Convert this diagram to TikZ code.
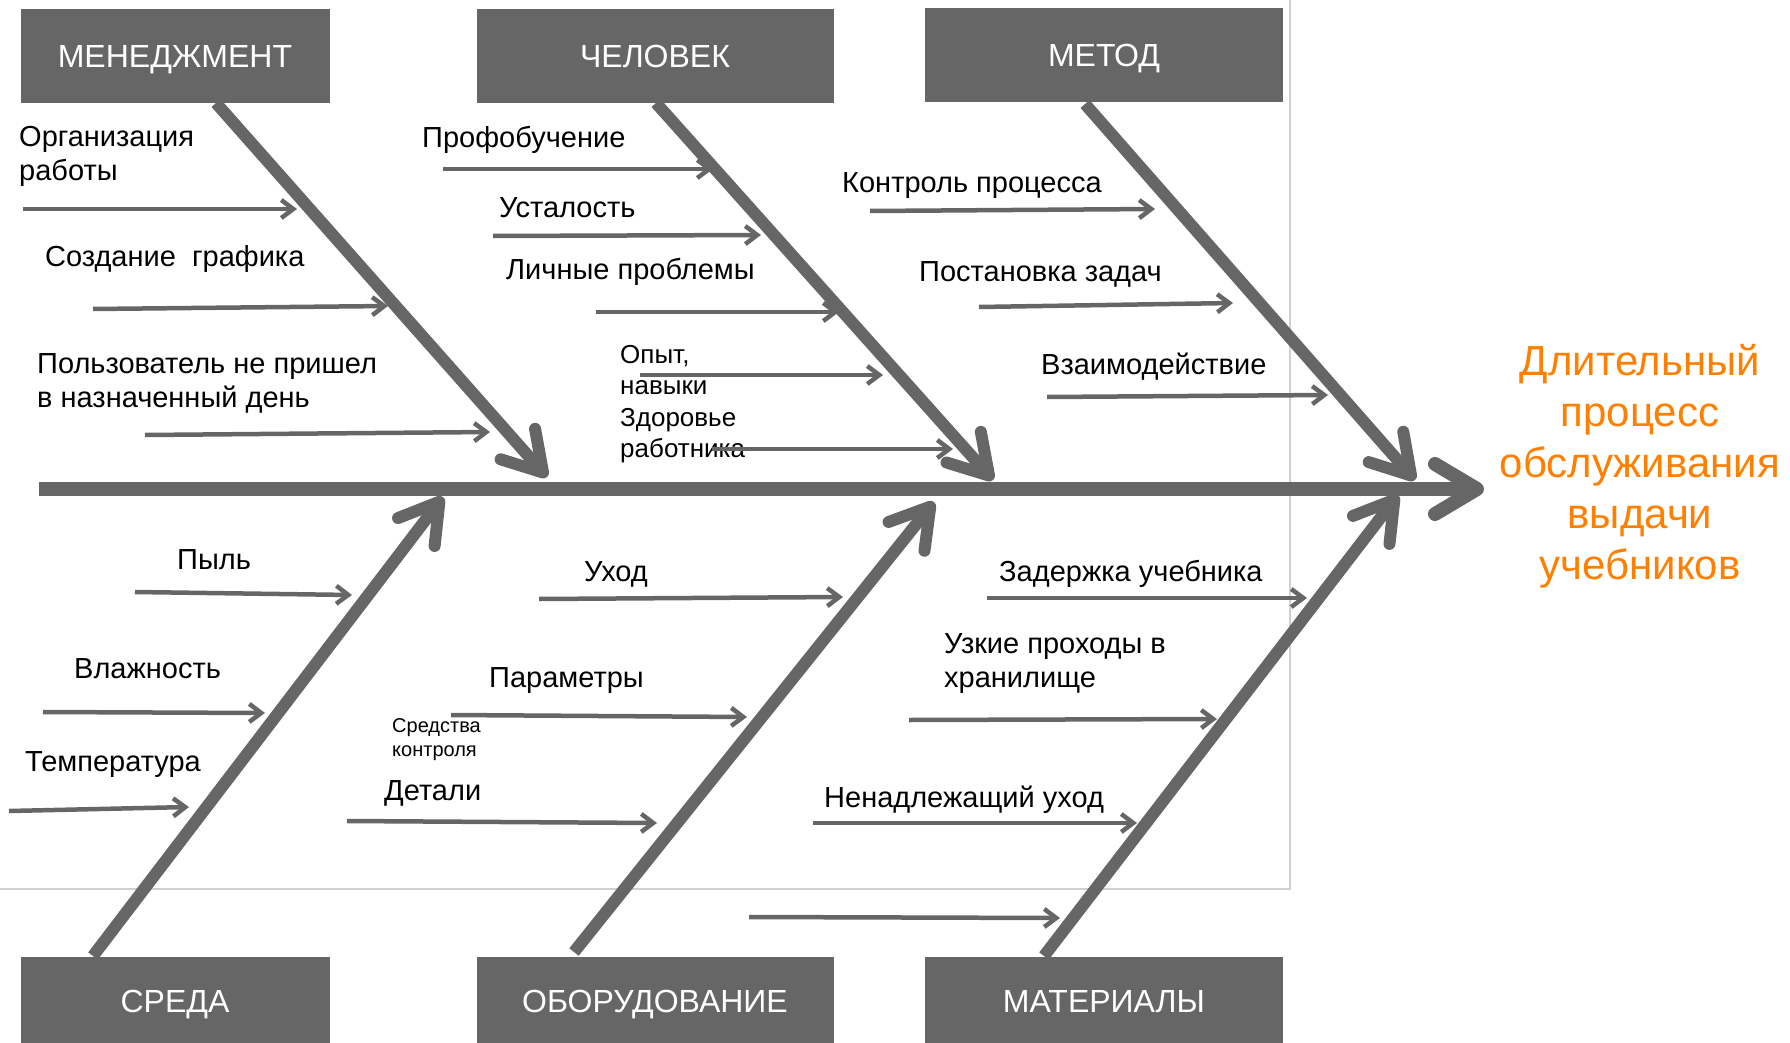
\documentclass[tikz,border=0pt]{standalone}
\usepackage{fontspec}
\setmainfont{Liberation Sans}
\usetikzlibrary{arrows.meta}
\definecolor{boxgray}{RGB}{102,102,102}
\definecolor{effectorange}{RGB}{255,128,0}
\definecolor{framegray}{RGB}{208,208,208}
\tikzset{
  catbox/.style={fill=boxgray, text=white, inner sep=0pt, text height=23pt, text depth=0pt, font=\fontsize{32}{38}\selectfont},
  bone/.style={draw=boxgray, line width=12pt, -{Straight Barb[length=38pt,width=46pt,round]}},
  spine/.style={draw=boxgray, line width=14pt, -{Straight Barb[length=42pt,width=50pt,round]}},
  cause/.style={draw=boxgray, line width=4.5pt, -{Straight Barb[length=12pt,width=18pt]}},
  causetext/.style={anchor=base west, inner sep=0pt, align=left, font=\fontsize{29}{34}\selectfont},
}
\begin{document}
\begin{tikzpicture}[x=1pt, y=1pt]
\useasboundingbox (0,0) rectangle (1790,-1043);
\draw [framegray, line width=1.5pt] (1290,0) -- (1290,-889) -- (0,-889);
% categories
\node [catbox, minimum width=309pt, minimum height=94pt] (mgmt) at (175,-56) {МЕНЕДЖМЕНТ};
\node [catbox, minimum width=357pt, minimum height=94pt] (human) at (655,-56) {ЧЕЛОВЕК};
\node [catbox, minimum width=358pt, minimum height=94pt] (method) at (1104,-55) {МЕТОД};
\node [catbox, minimum width=309pt, minimum height=88pt] (env) at (175,-1001) {СРЕДА};
\node [catbox, minimum width=357pt, minimum height=88pt] (equip) at (655,-1001) {ОБОРУДОВАНИЕ};
\node [catbox, minimum width=358pt, minimum height=88pt] (mat) at (1104,-1001) {МАТЕРИАЛЫ};
\node [text=effectorange, align=center, inner sep=0pt, font=\fontsize{42}{51}\selectfont] (effect) at (1640,-466) {Длительный\\процесс\\обслуживания\\выдачи\\учебников};
% spine and bones
\coordinate (tail) at (39,-489);
\coordinate (head) at (1484,-489);
\draw [spine] (tail) -- (head);
\coordinate (mgmt-a) at (216,-103);
\coordinate (mgmt-b) at (547,-477);
\draw [bone] (mgmt-a) -- (mgmt-b);
\coordinate (human-a) at (656,-103);
\coordinate (human-b) at (993,-480);
\draw [bone] (human-a) -- (human-b);
\coordinate (method-a) at (1085,-104);
\coordinate (method-b) at (1415,-480);
\draw [bone] (method-a) -- (method-b);
\coordinate (env-a) at (93,-956);
\coordinate (env-b) at (443,-497);
\draw [bone] (env-a) -- (env-b);
\coordinate (equip-a) at (574,-952);
\coordinate (equip-b) at (934,-502);
\draw [bone] (equip-a) -- (equip-b);
\coordinate (mat-a) at (1044,-956);
\coordinate (mat-b) at (1398,-495);
\draw [bone] (mat-a) -- (mat-b);
% causes: management
\node [causetext] (org) at (19,-181) {Организация\\работы};
\node [causetext] (sched) at (45,-266) {Создание\ \ графика};
\node [causetext] (user) at (37,-407) {Пользователь не пришел\\в назначенный день};
\coordinate (org-a) at (23,-209);
\coordinate (org-b) at (297,-209);
\draw [cause] (org-a) -- (org-b);
\coordinate (sched-a) at (93,-309);
\coordinate (sched-b) at (388,-306);
\draw [cause] (sched-a) -- (sched-b);
\coordinate (user-a) at (145,-435);
\coordinate (user-b) at (490,-432);
\draw [cause] (user-a) -- (user-b);
% causes: human
\node [causetext] (train) at (422,-148) {Профобучение};
\node [causetext] (tired) at (499,-218) {Усталость};
\node [causetext] (personal) at (506,-279) {Личные проблемы};
\node [causetext, font=\fontsize{26}{31}\selectfont] (skill) at (620,-394) {Опыт,\\навыки};
\node [causetext, font=\fontsize{26}{31}\selectfont] (health) at (620,-457) {Здоровье\\работника};
\coordinate (train-a) at (443,-169);
\coordinate (train-b) at (713,-169);
\draw [cause] (train-a) -- (train-b);
\coordinate (tired-a) at (493,-236);
\coordinate (tired-b) at (761,-235);
\draw [cause] (tired-a) -- (tired-b);
\coordinate (personal-a) at (596,-312);
\coordinate (personal-b) at (839,-312);
\draw [cause] (personal-a) -- (personal-b);
\coordinate (skill-a) at (640,-375);
\coordinate (skill-b) at (883,-375);
\draw [cause] (skill-a) -- (skill-b);
\coordinate (health-a) at (712,-449);
\coordinate (health-b) at (953,-449);
\draw [cause] (health-a) -- (health-b);
% causes: method
\node [causetext] (ctrl) at (842,-193) {Контроль процесса};
\node [causetext] (task) at (919,-281) {Постановка задач};
\node [causetext] (inter) at (1041,-374) {Взаимодействие};
\coordinate (ctrl-a) at (870,-211);
\coordinate (ctrl-b) at (1155,-209);
\draw [cause] (ctrl-a) -- (ctrl-b);
\coordinate (task-a) at (979,-307);
\coordinate (task-b) at (1233,-303);
\draw [cause] (task-a) -- (task-b);
\coordinate (inter-a) at (1047,-397);
\coordinate (inter-b) at (1328,-395);
\draw [cause] (inter-a) -- (inter-b);
% causes: environment
\node [causetext] (dust) at (177,-569) {Пыль};
\node [causetext] (humid) at (74,-678) {Влажность};
\node [causetext] (temp) at (25,-771) {Температура};
\coordinate (dust-a) at (135,-592);
\coordinate (dust-b) at (352,-595);
\draw [cause] (dust-a) -- (dust-b);
\coordinate (humid-a) at (43,-712);
\coordinate (humid-b) at (265,-713);
\draw [cause] (humid-a) -- (humid-b);
\coordinate (temp-a) at (9,-811);
\coordinate (temp-b) at (189,-807);
\draw [cause] (temp-a) -- (temp-b);
% causes: equipment
\node [causetext] (care) at (584,-581) {Уход};
\node [causetext] (param) at (489,-687) {Параметры};
\node [causetext, font=\fontsize{20}{24}\selectfont] (tools) at (392,-756) {Средства\\контроля};
\node [causetext] (parts) at (384,-800) {Детали};
\coordinate (care-a) at (539,-599);
\coordinate (care-b) at (843,-597);
\draw [cause] (care-a) -- (care-b);
\coordinate (param-a) at (451,-715);
\coordinate (param-b) at (747,-717);
\draw [cause] (param-a) -- (param-b);
\coordinate (parts-a) at (347,-821);
\coordinate (parts-b) at (657,-823);
\draw [cause] (parts-a) -- (parts-b);
% causes: materials
\node [causetext] (delay) at (999,-581) {Задержка учебника};
\node [causetext] (narrow) at (944,-687) {Узкие проходы в\\хранилище};
\node [causetext] (improper) at (824,-807) {Ненадлежащий уход};
\coordinate (delay-a) at (987,-598);
\coordinate (delay-b) at (1307,-598);
\draw [cause] (delay-a) -- (delay-b);
\coordinate (narrow-a) at (909,-720);
\coordinate (narrow-b) at (1217,-719);
\draw [cause] (narrow-a) -- (narrow-b);
\coordinate (improper-a) at (813,-823);
\coordinate (improper-b) at (1137,-823);
\draw [cause] (improper-a) -- (improper-b);
\coordinate (extra-a) at (749,-917);
\coordinate (extra-b) at (1060,-918);
\draw [cause] (extra-a) -- (extra-b);
\end{tikzpicture}
\end{document}
